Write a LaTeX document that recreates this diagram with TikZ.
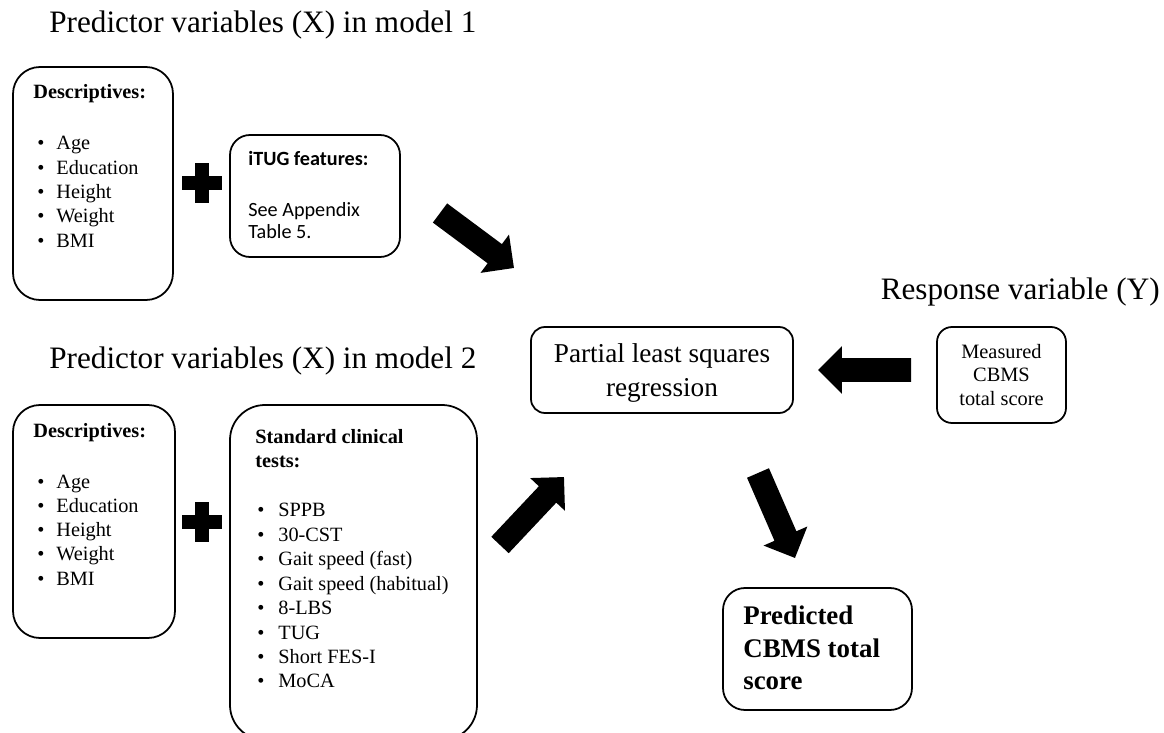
\documentclass[tikz,border=0pt]{standalone}
\usepackage{fontspec}
\setmainfont{Liberation Serif}
\newfontfamily\calfont{Carlito}
\usetikzlibrary{calc,fit}
\newcommand\fatarrow[2]{%
  \path let \p1=(#1), \p2=(#2), \n1={atan2(\y2-\y1,\x2-\x1)}, \n2={veclen(\x2-\x1,\y2-\y1)} in \pgfextra{\xdef\faang{\n1}\xdef\falen{\n2}};%
  \fill[shift={(#1)}, rotate=\faang] (0pt,6.8pt) -- ({\falen-13.6pt},6.8pt) -- ({\falen-13.6pt},13.6pt) -- (\falen,0pt) -- ({\falen-13.6pt},-13.6pt) -- ({\falen-13.6pt},-6.8pt) -- (0pt,-6.8pt) -- cycle;}
\begin{document}
\begin{tikzpicture}[x=0.02cm,y=-0.02cm,
  box/.style={draw, line width=1pt, rounded corners=#1, inner sep=0pt},
  box/.default=0.4cm,
  ttl/.style={font=\fontsize{17.75}{21}\selectfont, inner sep=0pt, anchor=base west},
  itm/.style={font=\fontsize{11.55}{14}\selectfont, inner sep=0pt, anchor=base west},
  bitm/.style={font=\fontsize{11.55}{14}\selectfont\bfseries, inner sep=0pt, anchor=base west},
  cal/.style={font=\calfont\fontsize{11.5}{14}\selectfont, inner sep=0pt, anchor=base west},
  bcal/.style={font=\calfont\fontsize{11.5}{14}\selectfont\bfseries, inner sep=0pt, anchor=base west},
  big/.style={font=\fontsize{15.5}{19}\selectfont, inner sep=0pt, anchor=base},
  mid/.style={font=\fontsize{11.6}{14}\selectfont, inner sep=0pt, anchor=base},
  bbig/.style={font=\fontsize{15.3}{19}\selectfont\bfseries, inner sep=0pt, anchor=base west},
  plus/.style={fill=black}]
\useasboundingbox (0,0) rectangle (1164,733);
\clip (0,0) rectangle (1164,733);
% titles
\node[ttl] (t1) at (49,33) {Predictor variables (X) in model 1};
\node[ttl] (t2) at (49,369) {Predictor variables (X) in model 2};
\node[ttl, anchor=base east] (t3) at (1160,300) {Response variable (Y)};
% model 1
\node[box=0.54cm, fit={(13,67) (173,300)}] (descA) {};
\node[bitm] (dA) at (33,99) {Descriptives:};
\foreach \t [count=\i] in {Age,Education,Height,Weight,BMI} {
  \node[itm] (bA\i) at (37,{150+24.3*(\i-1)}) {•};
  \node[itm] (iA\i) at (56,{150+24.3*(\i-1)}) {\t};
}
\fill[plus] (182,176) rectangle (222,190);
\fill[plus] (195,163) rectangle (209,203);
\node[box=0.4cm, fit={(230,135) (400,257)}] (itug) {};
\node[bcal] (it1) at (248,166) {iTUG features:};
\node[cal] (it2) at (248,217) {See Appendix};
\node[cal] (it3) at (248,239) {Table 5.};
% model 2
\node[box=0.54cm, fit={(13,405) (175,638)}] (descB) {};
\node[bitm] (dB) at (33,438) {Descriptives:};
\foreach \t [count=\i] in {Age,Education,Height,Weight,BMI} {
  \node[itm] (bB\i) at (37,{488+24.3*(\i-1)}) {•};
  \node[itm] (iB\i) at (56,{488+24.3*(\i-1)}) {\t};
}
\fill[plus] (182,515) rectangle (222,529);
\fill[plus] (195,502) rectangle (209,542);
\node[box=0.7cm, fit={(230,405) (477,740)}] (clin) {};
\node[bitm] (c1) at (255,443) {Standard clinical};
\node[bitm] (c2) at (255,467) {tests:};
\foreach \t [count=\i] in {SPPB,30-CST,Gait speed (fast),Gait speed (habitual),8-LBS,TUG,Short FES-I,MoCA} {
  \node[itm] (bC\i) at (257,{517+24.4*(\i-1)}) {•};
  \node[itm] (iC\i) at (278,{517+24.4*(\i-1)}) {\t};
}
% PLS
\node[box=0.28cm, fit={(531,327) (793,413)}] (pls) {};
\node[big] (p1) at (662,363) {Partial least squares};
\node[big] (p2) at (662,397) {regression};
% measured
\node[box=0.3cm, fit={(937,327) (1066,423)}] (meas) {};
\node[mid] (m1) at (1001.5,358) {Measured};
\node[mid] (m2) at (1001.5,382) {CBMS};
\node[mid] (m3) at (1001.5,406) {total score};
% predicted
\node[box=0.44cm, fit={(723,588) (912,710)}] (pred) {};
\node[bbig] (q1) at (743,624.5) {Predicted};
\node[bbig] (q2) at (743,657.5) {CBMS total};
\node[bbig] (q3) at (743,689) {score};
% arrows
\coordinate (a1t) at (440,213); \coordinate (a1h) at (514,268);
\coordinate (a2t) at (500,545); \coordinate (a2h) at (564,477);
\coordinate (a3t) at (758,473); \coordinate (a3h) at (795,558);
\coordinate (a4t) at (911,370); \coordinate (a4h) at (818,370);
\fatarrow{a1t}{a1h}
\fatarrow{a2t}{a2h}
\fatarrow{a3t}{a3h}
\fatarrow{a4t}{a4h}
\end{tikzpicture}
\end{document}
